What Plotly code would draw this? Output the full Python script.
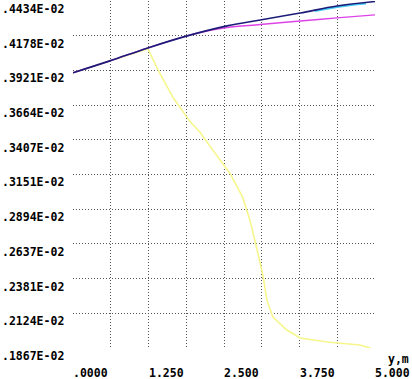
import plotly.graph_objects as go

# Values in units of 1E-02
x_main = [0.0, 0.61, 1.24, 1.89, 2.55, 3.10, 3.76, 4.37, 5.0]
navy = [0.3903, 0.3991, 0.4087, 0.4176, 0.4250, 0.4294, 0.4345, 0.4397, 0.4430]

x_mag = [0.0, 0.61, 1.24, 1.89, 2.20, 2.55, 3.10, 3.76, 4.37, 5.0]
magenta = [0.3903, 0.3991, 0.4087, 0.4176, 0.4210, 0.4238, 0.4260, 0.4286, 0.4309, 0.4331]

x_cyan = [4.0, 4.37, 4.70, 4.85]
cyan = [0.4360, 0.4390, 0.4410, 0.4416]

x_yel = [0.0, 0.61, 1.24, 1.44, 1.66, 1.94, 2.10, 2.32, 2.60, 2.81, 2.93, 3.05, 3.15,
         3.21, 3.31, 3.54, 3.76, 4.21, 4.75, 4.92]
yellow = [0.3903, 0.3991, 0.4080, 0.3896, 0.3718, 0.3540, 0.3465, 0.3327, 0.3158, 0.2981,
          0.2811, 0.2590, 0.2391, 0.2221, 0.2096, 0.2000, 0.1941, 0.1911, 0.1889, 0.1867]

y_tick_labels = [".4434E-02", ".4178E-02", ".3921E-02", ".3664E-02", ".3407E-02", ".3151E-02",
                 ".2894E-02", ".2637E-02", ".2381E-02", ".2124E-02", ".1867E-02"]
y_tick_vals = [float(s.split("E")[0]) for s in y_tick_labels]
x_tick_vals = [0.0, 1.25, 2.5, 3.75, 5.0]
x_tick_labels = [".0000", "1.250", "2.500", "3.750", "5.000"]
x_title = "y,m"

font = dict(family="DejaVu Sans Mono", size=11.5, color="black", weight="bold")

fig = go.Figure()
fig.add_trace(go.Scatter(x=x_yel, y=yellow, mode="lines", line=dict(color="#f6f68c", width=1.6)))
fig.add_trace(go.Scatter(x=x_cyan, y=cyan, mode="lines", line=dict(color="#40c8f0", width=2)))
fig.add_trace(go.Scatter(x=x_mag, y=magenta, mode="lines", line=dict(color="#dd44e8", width=1.4), line_shape="spline"))
fig.add_trace(go.Scatter(x=x_main, y=navy, mode="lines", line=dict(color="#1c1c78", width=1.6), line_shape="spline"))

ann = []
for v, t in zip(y_tick_vals, y_tick_labels):
    ann.append(dict(x=0, xref="paper", y=v, yref="y", text=t, showarrow=False, borderpad=0,
                    xanchor="right", yanchor="middle", xshift=-8, yshift=-8, font=font))
for v, t in zip(x_tick_vals, x_tick_labels):
    ann.append(dict(x=v, xref="x", y=0, yref="paper", text=t, showarrow=False, borderpad=0,
                    xanchor="left", yanchor="middle", xshift=-1, yshift=-25, font=font))
ann.append(dict(x=1, xref="paper", y=0, yref="paper", text=x_title, showarrow=False, borderpad=0,
                xanchor="left", yanchor="middle", xshift=12, yshift=-11, font=font))

grid = dict(showgrid=True, gridcolor="#555555", griddash="1px,2px", gridwidth=1,
            zeroline=False, showline=False, showticklabels=False, ticks="")
fig.update_layout(
    width=412, height=379,
    margin=dict(l=73, r=37, t=1, b=31),
    paper_bgcolor="white", plot_bgcolor="white",
    showlegend=False,
    xaxis=dict(range=[0, 5], tick0=0, dtick=0.625, **grid),
    yaxis=dict(range=[y_tick_vals[-1], y_tick_vals[0]], tickvals=y_tick_vals, **grid),
    annotations=ann,
)
fig.write_html("out.html", config={"displayModeBar": False},
               post_script="document.body.style.margin='0';")
